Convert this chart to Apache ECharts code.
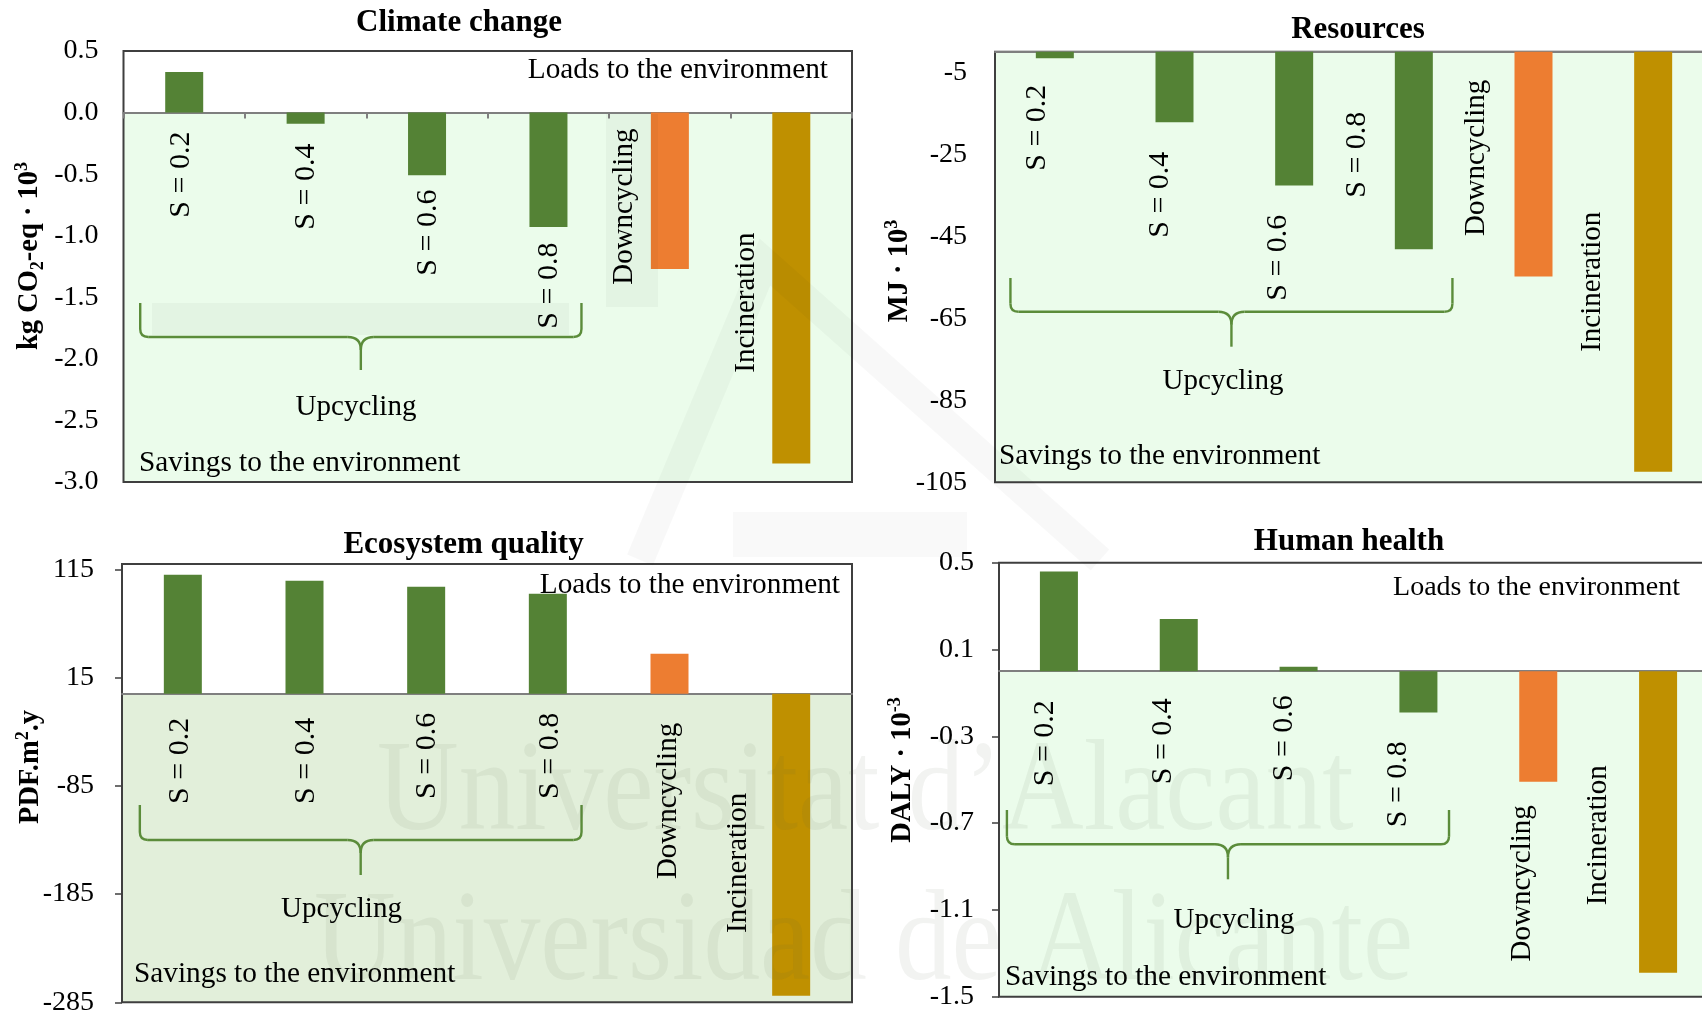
<!DOCTYPE html>
<html>
<head>
<meta charset="utf-8">
<script src="https://cdn.jsdelivr.net/npm/echarts@6/dist/echarts.min.js"></script>
<style>
  html, body { margin: 0; padding: 0; background: #ffffff; }
  #chart { width: 1702px; height: 1016px; }
</style>
</head>
<body>
<div id="chart"></div>
<script>
// End-of-life scenarios, impact per category
const categories = ['S = 0.2', 'S = 0.4', 'S = 0.6', 'S = 0.8', 'Downcycling', 'Incineration'];

const climateChange    = [0.33, -0.09, -0.51, -0.93, -1.27, -2.85];     // kg CO2-eq · 10^3
const resources        = [-1.6, -17.2, -32.6, -48.2, -54.8, -102.4];     // MJ · 10^3
const ecosystemQuality = [110, 104.5, 99, 92.5, 37, -279];               // PDF.m2.y
const humanHealth      = [0.46, 0.24, 0.02, -0.19, -0.51, -1.39];        // DALY · 10^-3

const climateTicks   = [0.5, 0.0, -0.5, -1.0, -1.5, -2.0, -2.5, -3.0];
const resourcesTicks = [-5, -25, -45, -65, -85, -105];
const ecosystemTicks = [115, 15, -85, -185, -285];
const healthTicks    = [0.5, 0.1, -0.3, -0.7, -1.1, -1.5];

const barColors = ['#548235', '#548235', '#548235', '#548235', '#ED7D31', '#BF9000'];
const SERIF = '"Liberation Serif", "Times New Roman", serif';

// Layout for each of the four panels (pixels)
const panels = [
  {
    title: 'Climate change', values: climateChange, ticks: climateTicks,
    min: -3, max: 0.5, decimals: 1,
    grid: { left: 123.5, top: 51, width: 728.5, height: 431 },
    titlePos: [459, 23],
    yName: { parts: [['b', 'kg CO'], ['sub', '2'], ['b', '-eq · 10'], ['sup', '3']], x: 30, y: 256 },
    labelMargin: 25, yTicks: false, xTicks: true, savingsColor: '#ebfceb',
    labelOffsets: [[-3, 19], [0, 31], [1, 77], [1, 130], [-45, 16], [-45, 120]],
    brace: { left: -44, right: 33, top: 252, mid: 286, tip: 319 },
    upcycling: [356, 407], loads: [828, 70], loadsSize: 29.3, savings: [139, 463]
  },
  {
    title: 'Resources', values: resources, ticks: resourcesTicks,
    min: -105, max: 0, decimals: 0,
    grid: { left: 995, top: 51.7, width: 718, height: 430.6 },
    titlePos: [1358, 30],
    yName: { parts: [['b', 'MJ · 10'], ['sup', '3']], x: 900, y: 271 },
    labelMargin: 28, yTicks: false, xTicks: false, savingsColor: '#ebfceb',
    labelOffsets: [[-18, 33], [-14, 100], [-16, 163], [-57, 60], [-57, 28], [-61, 160]],
    brace: { left: -44.4, right: 38.6, top: 226.3, mid: 260, tip: 295 },
    upcycling: [1223, 381], loads: null, loadsSize: 29.3, savings: [999, 456]
  },
  {
    title: 'Ecosystem quality', values: ecosystemQuality, ticks: ecosystemTicks,
    min: -285, max: 120, decimals: 0,
    grid: { left: 122, top: 564, width: 730, height: 438.3 },
    titlePos: [463.5, 545],
    yName: { parts: [['b', 'PDF.m'], ['sup', '2'], ['b', '.y']], x: 31, y: 767 },
    labelMargin: 28, yTicks: true, xTicks: false, savingsColor: '#e2efda',
    labelOffsets: [[-3, 24], [1.5, 24], [0.6, 19], [2, 19], [-1.5, 29], [-53, 99]],
    brace: { left: -43, right: 33.7, top: 241, mid: 276, tip: 311 },
    upcycling: [341.5, 909], loads: [840, 585], loadsSize: 29.3, savings: [134, 974]
  },
  {
    title: 'Human health', values: humanHealth, ticks: healthTicks,
    min: -1.5, max: 0.5, decimals: 1,
    grid: { left: 999, top: 562.7, width: 719, height: 434 },
    titlePos: [1349, 542],
    yName: { parts: [['b', 'DALY · 10'], ['sup', '-3']], x: 903, y: 770 },
    labelMargin: 25, yTicks: true, xTicks: false, savingsColor: '#ebfceb',
    labelOffsets: [[-14, 29], [-16, 27], [-14, 24], [-20, 70], [-16, 134], [-60, 94]],
    brace: { left: -52, right: 30.6, top: 247.3, mid: 281.6, tip: 316.6 },
    upcycling: [1234, 920], loads: [1680, 588], loadsSize: 28, savings: [1005, 977]
  }
];

const chart = echarts.init(document.getElementById('chart'), null, { renderer: 'canvas', width: 1702, height: 1016 });

const option = {
  animation: false,
  backgroundColor: '#ffffff',
  grid: panels.map(p => Object.assign({
    show: true, borderColor: '#3f3f3f', borderWidth: 2, backgroundColor: 'transparent',
    containLabel: false, outerBoundsMode: 'none'
  }, p.grid)),
  xAxis: panels.map((p, i) => ({
    type: 'category', gridIndex: i, data: categories,
    axisLine: { show: true, onZero: true, lineStyle: { color: '#7f7f7f', width: 2 } },
    axisTick: { show: p.xTicks, length: 6, lineStyle: { color: '#7f7f7f', width: 2 } },
    axisLabel: { show: false },
    splitLine: { show: false }
  })),
  yAxis: panels.map((p, i) => ({
    type: 'value', gridIndex: i, min: p.min, max: p.max,
    axisLine: { show: false },
    axisTick: { show: p.yTicks, length: 7, customValues: p.ticks, lineStyle: { color: '#3f3f3f', width: 1.5 } },
    axisLabel: {
      customValues: p.ticks, margin: p.labelMargin,
      formatter: v => Number(v).toFixed(p.decimals),
      fontFamily: SERIF, fontSize: 28, color: '#000000'
    },
    splitLine: { show: false }
  })),
  series: panels.map((p, i) => ({
    type: 'bar', xAxisIndex: i, yAxisIndex: i, barWidth: 38, z: 3,
    data: p.values.map((v, k) => ({ value: v, itemStyle: { color: barColors[k] } }))
  }))
};
chart.setOption(option);

// Annotations placed through each panel's own axes
const elements = [];
const braceStyle = { stroke: '#5b8c3a', lineWidth: 2.4, fill: null };
const textFont = (size, bold) => ({ fontFamily: SERIF, fontSize: size, fontWeight: bold ? 'bold' : 'normal' });

panels.forEach((p, i) => {
  const px = (cat, val) => chart.convertToPixel({ gridIndex: i }, [cat, val]);
  const g = p.grid;
  const zeroY = px(0, 0)[1];
  const bottomY = px(0, p.min)[1];

  // savings region below the zero line
  elements.push({
    type: 'rect', z: -5, silent: true,
    shape: { x: g.left, y: zeroY, width: g.width, height: bottomY - zeroY },
    style: { fill: p.savingsColor }
  });

  // panel title
  elements.push({
    type: 'text', x: p.titlePos[0], y: p.titlePos[1], z: 10,
    style: Object.assign({ text: p.title, fill: '#000', align: 'center', verticalAlign: 'middle' }, textFont(31, true))
  });

  // y-axis name with sub/superscripts
  const rich = {
    b: { fontFamily: SERIF, fontSize: 28.5, fontWeight: 'bold', lineHeight: 34, fill: '#000' },
    sup: { fontFamily: SERIF, fontSize: 18, fontWeight: 'bold', lineHeight: 18, verticalAlign: 'top', fill: '#000' },
    sub: { fontFamily: SERIF, fontSize: 18, fontWeight: 'bold', lineHeight: 18, verticalAlign: 'bottom', fill: '#000' }
  };
  elements.push({
    type: 'text', x: p.yName.x, y: p.yName.y, rotation: Math.PI / 2, z: 10,
    style: {
      text: p.yName.parts.map(([s, t]) => '{' + s + '|' + t + '}').join(''),
      rich: rich, align: 'center', verticalAlign: 'middle'
    }
  });

  // category labels, written vertically
  categories.forEach((c, k) => {
    const cx = px(k, 0)[0];
    const [dx, dy] = p.labelOffsets[k];
    elements.push({
      type: 'text', x: cx + dx, y: zeroY + dy, rotation: Math.PI / 2, z: 10,
      style: Object.assign({ text: c, fill: '#000', align: 'right', verticalAlign: 'middle' },
        textFont(k < 4 ? 30 : 29, false))
    });
  });

  // curly brace grouping the upcycling scenarios
  const L = px(0, 0)[0] + p.brace.left;
  const R = px(3, 0)[0] + p.brace.right;
  const C = (L + R) / 2;
  const top = g.top + p.brace.top, h = g.top + p.brace.mid, tip = g.top + p.brace.tip;
  const r = 8, cr = 13;
  const seg = (shape, type) => elements.push({ type: type || 'line', z: 9, silent: true, shape, style: braceStyle });
  seg({ x1: L, y1: top, x2: L, y2: h - r });
  seg({ x1: L, y1: h - r, cpx1: L, cpy1: h, x2: L + r, y2: h }, 'bezierCurve');
  seg({ x1: L + r, y1: h, x2: C - cr, y2: h });
  seg({ x1: C - cr, y1: h, cpx1: C, cpy1: h, x2: C, y2: h + cr }, 'bezierCurve');
  seg({ x1: R, y1: top, x2: R, y2: h - r });
  seg({ x1: R, y1: h - r, cpx1: R, cpy1: h, x2: R - r, y2: h }, 'bezierCurve');
  seg({ x1: R - r, y1: h, x2: C + cr, y2: h });
  seg({ x1: C + cr, y1: h, cpx1: C, cpy1: h, x2: C, y2: h + cr }, 'bezierCurve');
  seg({ x1: C, y1: h + cr, x2: C, y2: tip });

  elements.push({
    type: 'text', x: p.upcycling[0], y: p.upcycling[1], z: 10,
    style: Object.assign({ text: 'Upcycling', fill: '#000', align: 'center', verticalAlign: 'middle' }, textFont(29, false))
  });
  if (p.loads) {
    elements.push({
      type: 'text', x: p.loads[0], y: p.loads[1], z: 10,
      style: Object.assign({ text: 'Loads to the environment', fill: '#000', align: 'right', verticalAlign: 'middle' }, textFont(p.loadsSize, false))
    });
  }
  elements.push({
    type: 'text', x: p.savings[0], y: p.savings[1], z: 10,
    style: Object.assign({ text: 'Savings to the environment', fill: '#000', align: 'left', verticalAlign: 'middle' }, textFont(29.3, false))
  });
});

// faint repository watermark
const wm = 'rgba(80,100,70,0.075)';
elements.push({
  type: 'polyline', z: 20, silent: true,
  shape: { points: [[640, 560], [765, 262], [1100, 560]] },
  style: { stroke: 'rgba(0,0,0,0.028)', lineWidth: 28, fill: null, lineJoin: 'miter' }
});
elements.push({ type: 'rect', z: 20, silent: true, shape: { x: 733, y: 512, width: 234, height: 45 }, style: { fill: 'rgba(0,0,0,0.022)' } });
elements.push({ type: 'rect', z: 20, silent: true, shape: { x: 606, y: 114, width: 52, height: 193 }, style: { fill: 'rgba(0,0,0,0.03)' } });
elements.push({ type: 'rect', z: 20, silent: true, shape: { x: 152, y: 303, width: 417, height: 32 }, style: { fill: 'rgba(0,0,0,0.03)' } });
elements.push({
  type: 'text', x: 377, y: 795, scaleX: 0.87, z: 20, silent: true,
  style: { text: 'Universitat d’Alacant', fill: wm, fontFamily: SERIF, fontSize: 130, align: 'left', verticalAlign: 'middle' }
});
elements.push({
  type: 'text', x: 314, y: 945, scaleX: 0.87, z: 20, silent: true,
  style: { text: 'Universidad de Alicante', fill: wm, fontFamily: SERIF, fontSize: 130, align: 'left', verticalAlign: 'middle' }
});

chart.setOption({ graphic: { elements: elements } });
</script>
</body>
</html>
